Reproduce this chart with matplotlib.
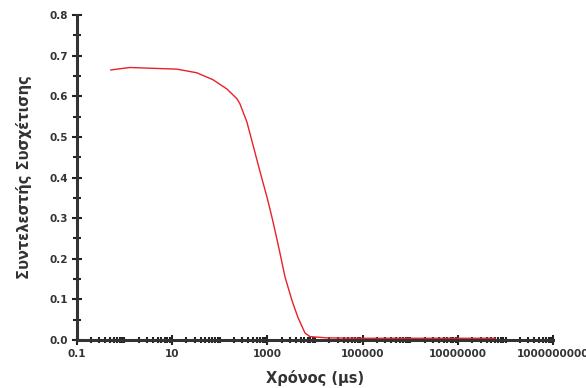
import matplotlib.pyplot as plt
import numpy as np
from matplotlib.ticker import LogLocator, FixedLocator, MultipleLocator, NullFormatter

# time (us) and correlation coefficient
time_us = [0.52, 1.3, 3.95, 12.6, 33, 72, 142, 230, 265, 372, 498, 700, 982,
           1250, 1445, 1840, 2350, 3290, 4400, 6170, 7850, 17900, 1e5, 1e6,
           1e7, 6e7]
corr = [0.665, 0.671, 0.669, 0.667, 0.658, 0.641, 0.618, 0.594, 0.582, 0.537,
        0.481, 0.415, 0.352, 0.302, 0.270, 0.214, 0.155, 0.097, 0.055, 0.017,
        0.008, 0.005, 0.004, 0.004, 0.004, 0.004]

xtick_vals = [0.1, 10, 1000, 100000, 10000000, 1000000000]
xtick_labels = ["0.1", "10", "1000", "100000", "10000000", "1000000000"]
ytick_vals = [0.0, 0.1, 0.2, 0.3, 0.4, 0.5, 0.6, 0.7, 0.8]

fig = plt.figure(figsize=(5.86, 3.88), dpi=100)
ax = fig.add_axes([0.131, 0.124, 0.813, 0.837])

ax.plot(time_us, corr, color="#e8202a", lw=1.0)

ax.set_xscale("log")
ax.set_xlim(0.1, 1e9)
ax.set_ylim(0, 0.8)

ax.xaxis.set_major_locator(FixedLocator(xtick_vals))
ax.set_xticklabels(xtick_labels)
ax.xaxis.set_minor_locator(LogLocator(base=10, subs=np.arange(1, 10), numticks=100))
ax.xaxis.set_minor_formatter(NullFormatter())
ax.set_yticks(ytick_vals)
ax.set_yticklabels(["%.1f" % v for v in ytick_vals])
ax.yaxis.set_minor_locator(MultipleLocator(0.05))

for s in ["top", "right"]:
    ax.spines[s].set_visible(False)
for s in ["left", "bottom"]:
    ax.spines[s].set_linewidth(2.2)
    ax.spines[s].set_color("#333333")

ax.tick_params(axis="both", which="both", direction="inout", color="#222222")
ax.tick_params(axis="both", which="major", length=7, width=1.5, labelsize=7.5, pad=3)
ax.tick_params(axis="x", which="minor", length=5, width=1.5)
ax.tick_params(axis="y", which="minor", length=6, width=1.5)
for lab in ax.get_xticklabels() + ax.get_yticklabels():
    lab.set_fontweight("bold")
    lab.set_color("#333333")

ax.set_xlabel("Χρόνος (μs)", fontsize=10.5, fontweight="bold", color="#333333", labelpad=8)
ax.set_ylabel("Συντελεστής Συσχέτισης", fontsize=10.5, fontweight="bold", color="#333333", labelpad=12)

fig.savefig("out.png", dpi=100)
